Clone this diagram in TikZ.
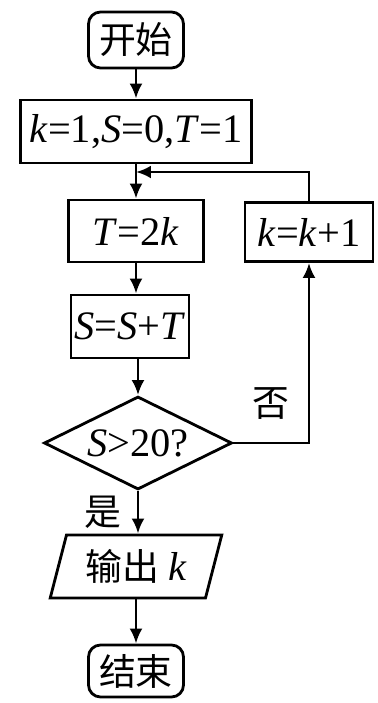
\documentclass[tikz,border=0pt]{standalone}
\usepackage{fontspec}
\setmainfont{Liberation Serif}
\newfontfamily\cjk{Noto Sans CJK SC}
\usetikzlibrary{shapes.geometric,arrows.meta}
\begin{document}
\begin{tikzpicture}[
  line width=0.8pt, >={Latex[length=1.5mm,width=1.3mm]},
  every node/.style={font=\fontsize{11.5}{14}\selectfont, inner sep=0pt},
  procbox/.style={draw, rectangle},
  termbox/.style={draw, rectangle, rounded corners=1.2mm, minimum width=0.95cm},
  decbox/.style={draw, diamond, aspect=2, minimum width=1.88cm, minimum height=0.93cm},
  iobox/.style={draw, trapezium, trapezium left angle=71, trapezium right angle=109,
                trapezium stretches=true, minimum width=1.72cm, minimum height=0.63cm},
  cn/.style={font=\cjk\fontsize{10.5}{12}\selectfont}
]
  \useasboundingbox (0,0) rectangle (3.78,7.03);
  % Start and initial values
  \node[termbox, minimum height=0.56cm] (start) at (1.36,6.63) {\cjk\fontsize{10.5}{12}\selectfont 开始};
  \node[procbox, minimum width=2.31cm, minimum height=0.63cm] (init) at (1.36,5.715)
    {\textit{k}=1,\textit{S}=0,\textit{T}=1};
  % Loop body
  \node[procbox, minimum width=1.35cm, minimum height=0.62cm] (tset) at (1.36,4.72) {\textit{T}=2\textit{k}};
  \node[procbox, minimum width=1.18cm, minimum height=0.63cm] (ssum) at (1.30,3.765) {\textit{S}=\textit{S}+\textit{T}};
  \node[procbox, minimum width=1.28cm, minimum height=0.59cm] (kinc) at (3.09,4.71) {\textit{k}=\textit{k}+1};
  % Test, output, end
  \node[decbox] (test) at (1.38,2.60) {\textit{S}>20?};
  \node[iobox] (out) at (1.36,1.365) {\cjk\fontsize{10.5}{12}\selectfont 输出\ \rmfamily\itshape\fontsize{11.5}{14}\selectfont k};
  \node[termbox, minimum height=0.52cm] (stop) at (1.36,0.32) {\cjk\fontsize{10.5}{12}\selectfont 结束};
  \coordinate (join) at (1.36,5.31);
  % Main flow
  \draw[->] (start) -- (init);
  \draw[->] (init) -- (tset);
  \draw[->] (tset.south) -- (tset.south |- ssum.north);
  \draw[->] (ssum.south -| test.north) -- (test.north);
  \draw[->] (test.south) -- (test.south |- out.north) node[midway, left=1.5mm, cn] {是};
  \draw[->] (out.south -| stop.north) -- (stop.north);
  % Loop back
  \draw[->] (test.east) -| (kinc.south) node[pos=0.25, above=2.2mm, cn] {否};
  \draw[->] (kinc.north) |- (join);
\end{tikzpicture}
\end{document}
